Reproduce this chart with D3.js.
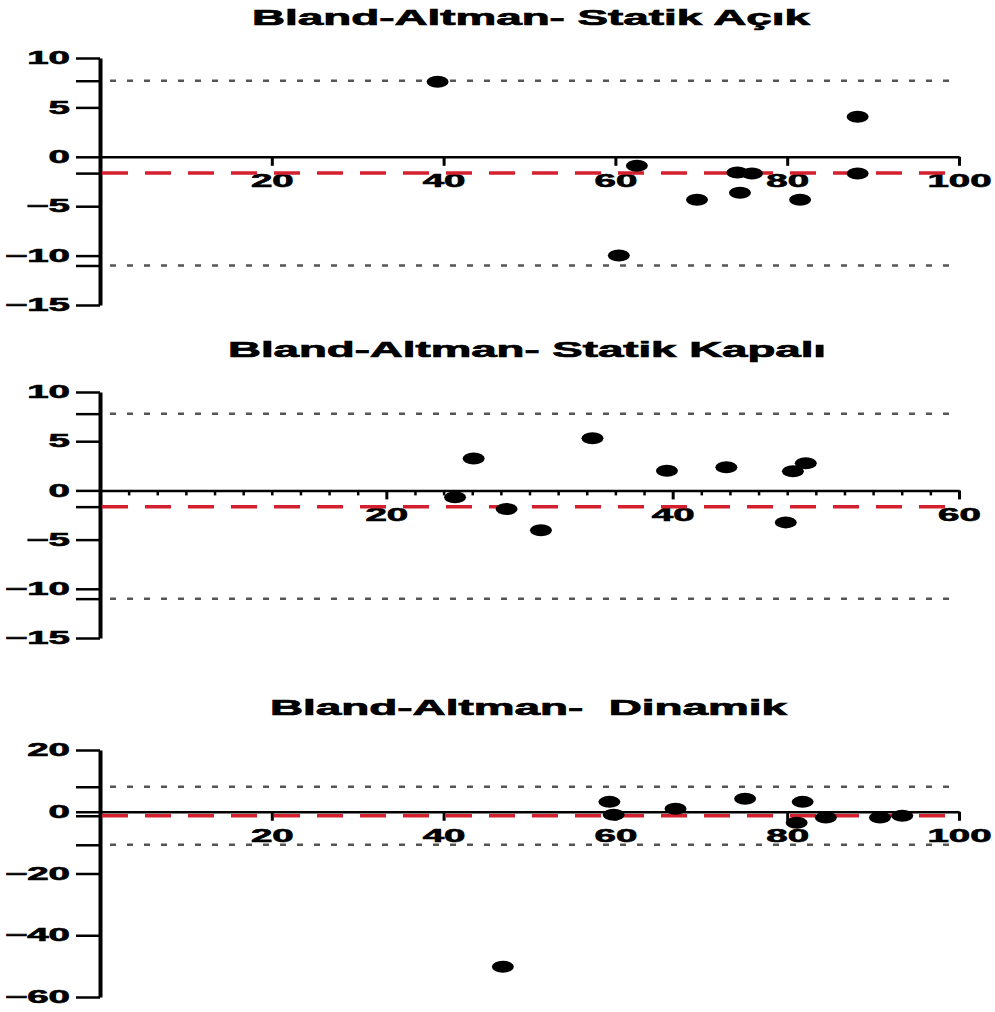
<!DOCTYPE html>
<html>
<head>
<meta charset="utf-8">
<script src="https://cdn.jsdelivr.net/npm/d3@7"></script>
<style>
  html, body { margin: 0; padding: 0; background: #fff; }
  svg { display: block; }
  text { font-family: "Liberation Sans", Arial, sans-serif; font-weight: bold; fill: #000; }
</style>
</head>
<body>
<svg id="chart" width="995" height="1012"></svg>
<script>
// ---------- DATA ----------
const titles = ["Bland-Altman- Statik Açık", "Bland-Altman- Statik Kapalı", "Bland-Altman-  Dinamik"];

// Panel 1: Statik Açık
const acikMean = [39.3, 88.2, 62.5, 74.2, 75.9, 88.2, 69.5, 74.5, 81.5, 60.4];
const acikDiff = [7.6, 4.05, -0.9, -1.6, -1.7, -1.7, -4.35, -3.65, -4.35, -10.0];
const acikBias = -1.65, acikUpper = 7.7, acikLower = -11.0;
const acikXTicks = [20, 40, 60, 80, 100];
const acikYTicks = [10, 5, 0, -5, -10, -15];

// Panel 2: Statik Kapalı
const kapaliMean = [24.8, 26.1, 28.4, 30.8, 34.4, 39.6, 43.75, 47.9, 48.4, 49.3];
const kapaliDiff = [-0.7, 3.25, -1.9, -4.05, 5.3, 2.0, 2.35, -3.25, 1.95, 2.75];
const kapaliBias = -1.65, kapaliUpper = 7.8, kapaliLower = -11.0;
const kapaliXTicks = [20, 40, 60];
const kapaliYTicks = [10, 5, 0, -5, -10, -15];

// Panel 3: Dinamik
const dinamikMean = [59.3, 59.8, 67.0, 75.1, 81.8, 81.1, 84.5, 90.8, 93.4, 46.9];
const dinamikDiff = [3.2, -1.0, 1.0, 4.2, 3.2, -3.6, -1.9, -1.9, -1.3, -50.2];
const dinamikBias = -1.3, dinamikUpper = 8.1, dinamikLower = -10.7;
const dinamikXTicks = [20, 40, 60, 80, 100];
const dinamikYTicks = [20, 0, -20, -40, -60];

// ---------- LAYOUT ----------
const svg = d3.select("#chart");
const SX = 2.2;           // horizontal stretch of tick labels
const FS = 17.5;          // tick font size

const panels = [
  { title: titles[0], tx: [252, 810], tBase: 25,
    xs: acikMean, ys: acikDiff, bias: acikBias, up: acikUpper, lo: acikLower,
    xDom: [0, 100], xTicks: acikXTicks, minor: null,
    yDom: [-15, 10], yRange: [305, 58], yTicks: acikYTicks },
  { title: titles[1], tx: [228, 826], tBase: 357,
    xs: kapaliMean, ys: kapaliDiff, bias: kapaliBias, up: kapaliUpper, lo: kapaliLower,
    xDom: [0, 60], xTicks: kapaliXTicks, minor: 2,
    yDom: [-15, 10], yRange: [638, 392], yTicks: kapaliYTicks },
  { title: titles[2], tx: [270, 787], tBase: 715,
    xs: dinamikMean, ys: dinamikDiff, bias: dinamikBias, up: dinamikUpper, lo: dinamikLower,
    xDom: [0, 100], xTicks: dinamikXTicks, minor: null,
    yDom: [-60, 20], yRange: [997, 750], yTicks: dinamikYTicks }
];

panels.forEach(p => {
  const x = d3.scaleLinear().domain(p.xDom).range([100, 959]);
  const y = d3.scaleLinear().domain(p.yDom).range(p.yRange);
  const g = svg.append("g");

  // title
  g.append("text")
    .attr("x", p.tx[0]).attr("y", p.tBase)
    .attr("font-size", 22)
    .attr("textLength", p.tx[1] - p.tx[0])
    .attr("lengthAdjust", "spacingAndGlyphs")
    .attr("stroke", "#000").attr("stroke-width", 0.7)
    .style("white-space", "pre")
    .text(p.title);

  // minor x ticks (panel 2)
  if (p.minor) {
    const minorVals = d3.range(p.xDom[0] + p.minor, p.xDom[1], p.minor).filter(v => !p.xTicks.includes(v));
    const mAx = d3.axisBottom(x).tickValues(minorVals).tickSize(5).tickFormat("").tickSizeOuter(0);
    const mg = g.append("g").attr("transform", `translate(0,${y(0)})`).call(mAx);
    mg.select(".domain").remove();
    mg.selectAll(".tick line").attr("stroke", "#000").attr("stroke-width", 2.5);
  }

  // x axis at y = 0
  const xAx = d3.axisBottom(x).tickValues(p.xTicks).tickSize(9).tickSizeOuter(0).tickPadding(9);
  const xg = g.append("g").attr("transform", `translate(0,${y(0)})`).call(xAx);
  xg.select(".domain").attr("stroke", "#000").attr("stroke-width", 2.5);
  xg.selectAll(".tick line").attr("stroke", "#000").attr("stroke-width", 3);
  xg.selectAll(".tick text")
    .attr("font-size", FS).attr("font-family", null)
    .attr("stroke", "#000").attr("stroke-width", 0.6)
    .attr("transform", `scale(${SX},1)`);

  // y axis
  const yAx = d3.axisLeft(y).tickValues(p.yTicks).tickSize(24).tickSizeOuter(0);
  const yg = g.append("g").attr("transform", "translate(100,0)").call(yAx);
  yg.select(".domain").attr("stroke", "#000").attr("stroke-width", 4);
  yg.selectAll(".tick line").attr("stroke", "#000").attr("stroke-width", 2.5);
  yg.selectAll(".tick text")
    .attr("font-size", FS).attr("font-family", null)
    .attr("stroke", "#000").attr("stroke-width", 0.6)
    .attr("x", -30 / SX)
    .attr("transform", `scale(${SX},1)`);

  // extra unlabeled y ticks at limits and bias
  const eAx = d3.axisLeft(y).tickValues([p.up, p.bias, p.lo]).tickSize(24).tickFormat("").tickSizeOuter(0);
  const eg = g.append("g").attr("transform", "translate(100,0)").call(eAx);
  eg.select(".domain").remove();
  eg.selectAll(".tick line").attr("stroke", "#000").attr("stroke-width", 2.5);

  // limits of agreement (dotted)
  [p.up, p.lo].forEach(v => {
    g.append("line")
      .attr("x1", 110).attr("x2", 950)
      .attr("y1", y(v)).attr("y2", y(v))
      .attr("stroke", "#555").attr("stroke-width", 2.5)
      .attr("stroke-dasharray", "6,11");
  });

  // bias line (red dashed)
  g.append("line")
    .attr("x1", 102).attr("x2", 945)
    .attr("y1", y(p.bias)).attr("y2", y(p.bias))
    .attr("stroke", "#d4202e").attr("stroke-width", 3.5)
    .attr("stroke-dasharray", "26,17");

  // points
  g.selectAll("ellipse.pt")
    .data(p.xs.map((v, i) => [v, p.ys[i]]))
    .join("ellipse")
    .attr("class", "pt")
    .attr("cx", d => x(d[0]))
    .attr("cy", d => y(d[1]))
    .attr("rx", 11).attr("ry", 6)
    .attr("fill", "#000");
});
</script>
</body>
</html>
